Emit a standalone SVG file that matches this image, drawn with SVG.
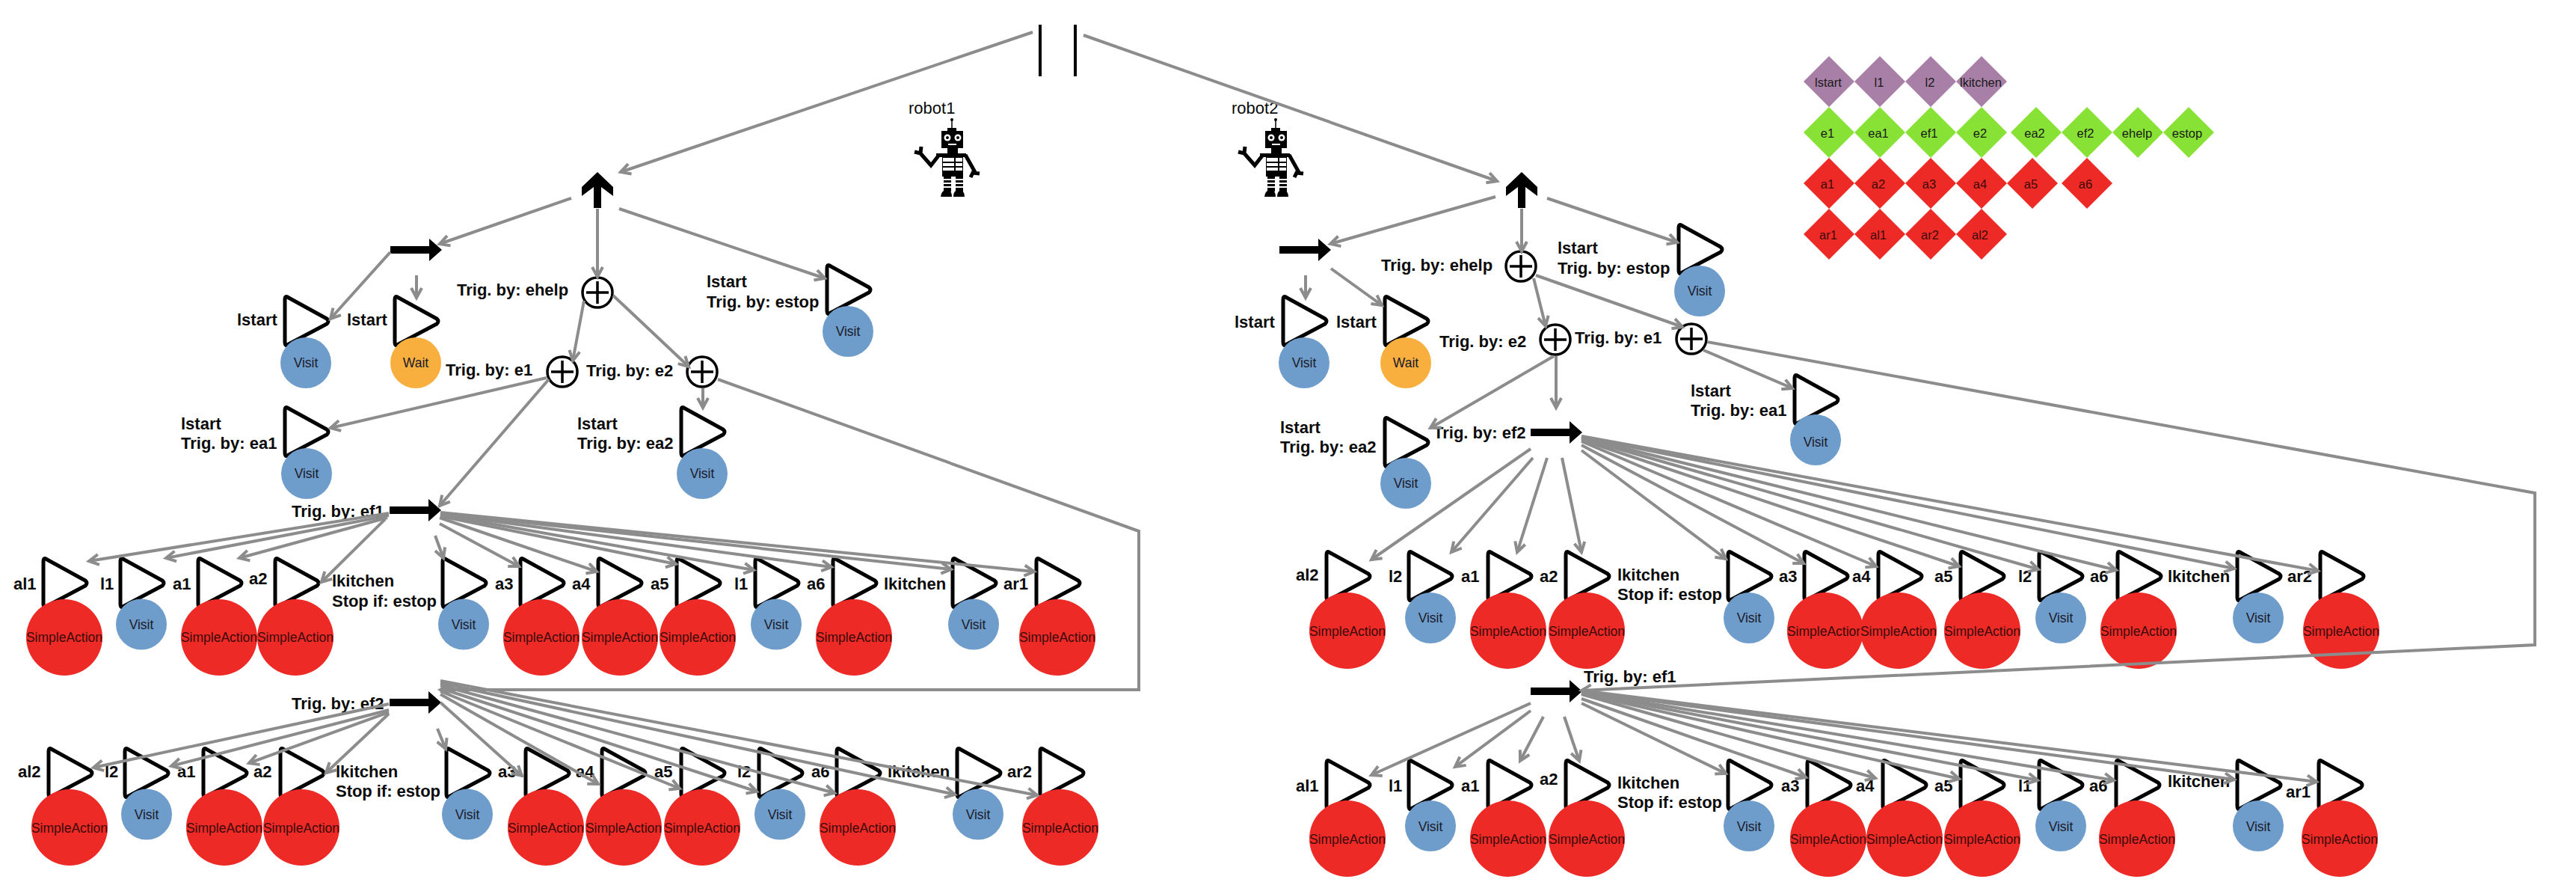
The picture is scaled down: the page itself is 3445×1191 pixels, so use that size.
<svg xmlns="http://www.w3.org/2000/svg" xmlns:xlink="http://www.w3.org/1999/xlink" width="3445" height="1191" viewBox="0 0 3445 1191">
<style>
text{font-family:"Liberation Sans",Arial,sans-serif;fill:#0b0b0b}
.lb{font-size:22px;font-weight:700}
.sm{font-size:17.5px;text-anchor:middle;fill:#1a1a2a}
.lg{font-size:16.5px;text-anchor:middle;fill:#1a1a1a}
.rb{font-size:22px}
.t{fill:none;stroke:#000;stroke-width:5;stroke-linejoin:round}
.sa{fill:#ee2a27}.v{fill:#6f9dcb}.w{fill:#f8af3e}
.sa-t{fill:#3a0a0a}
.p{fill:#a87fa7}.g{fill:#88e235}.r{fill:#ee2a27}
.c{fill:none;stroke:#8c8c8c;stroke-width:4;marker-end:url(#ah)}
.ring{fill:#fff;stroke:#000;stroke-width:3.5}
.bar{fill:none;stroke:#000;stroke-width:3.5}
</style>
<defs>
<marker id="ah" markerUnits="userSpaceOnUse" markerWidth="24" markerHeight="24" viewBox="0 0 24 24" refX="16" refY="12" orient="auto"><path d="M3,5 L16,12 L3,19" fill="none" stroke="#8c8c8c" stroke-width="4"/></marker>
<path id="tri" class="t" d="M0,5 Q0,-2 5,2 L56,30 Q60,33.5 56,37 L5,64 Q0,68 0,61 Z"/>
<polygon id="seq" points="0,10 52,10 52,0 69,15 52,30 52,20 0,20" fill="#000"/>
<polygon id="fb" points="0,0 21,20 21,32 5,20 5,48 -5,48 -5,20 -21,32 -21,20" fill="#000"/>
<g id="plus"><circle class="ring" r="20"/><path class="bar" d="M-15,0H15M0,-15V15"/></g>
<g id="robotfig" fill="#000">
<path d="M1273,161V172" stroke="#000" stroke-width="1.5"/><circle cx="1273" cy="160" r="2"/>
<rect x="1267" y="171" width="12" height="5"/><rect x="1259" y="175" width="29" height="23"/>
<circle cx="1267" cy="184" r="4.5" fill="#fff"/><circle cx="1281" cy="184" r="4.5" fill="#fff"/><circle cx="1267" cy="184" r="2"/><circle cx="1281" cy="184" r="2"/>
<rect x="1268" y="192" width="11" height="2" fill="#fff"/>
<rect x="1267" y="198" width="14" height="8"/><rect x="1260" y="205" width="28" height="31"/><rect x="1252" y="205" width="40" height="5"/>
<rect x="1261" y="211" width="26" height="5" fill="#fff"/><rect x="1261" y="218" width="26" height="4" fill="#fff"/><rect x="1261" y="224" width="26" height="4" fill="#fff"/>
<path d="M1277,210V229" stroke="#000" stroke-width="2"/>
<path d="M1256,207 L1245,221 L1231,205 M1223,203 L1231,205 L1232,196" fill="none" stroke="#000" stroke-width="5"/>
<path d="M1291,207 L1305,232 M1298,237 L1301,231 L1310,232" fill="none" stroke="#000" stroke-width="5"/>
<rect x="1262" y="236" width="10" height="20"/><rect x="1278" y="236" width="10" height="20"/>
<path d="M1261,240H1289M1261,245H1289M1261,250H1289" stroke="#fff" stroke-width="2"/>
<path d="M1258,263 Q1259,254 1266,254 Q1273,254 1273,263Z M1275,263 Q1275,254 1282,254 Q1290,254 1290,263Z"/>
</g>
</defs>
<rect width="3445" height="1191" fill="#fff"/>

<g id="par"><path d="M1391,33V102M1438,33V102" stroke="#000" stroke-width="4"/></g>
<g id="robot1"><text class="rb" x="1215" y="152">robot1</text><use xlink:href="#robotfig"/></g>
<g id="robot2"><text class="rb" x="1647" y="152">robot2</text><use xlink:href="#robotfig" transform="translate(433,0)"/></g>

<g id="legend">
<g class="p"><polygon points="2446,75 2480,109 2446,143 2412,109"/><polygon points="2514,75 2548,109 2514,143 2480,109"/><polygon points="2582,75 2616,109 2582,143 2548,109"/><polygon points="2650,75 2684,109 2650,143 2616,109"/></g>
<g class="g"><polygon points="2446,143 2480,177 2446,211 2412,177"/><polygon points="2514,143 2548,177 2514,211 2480,177"/><polygon points="2582,143 2616,177 2582,211 2548,177"/><polygon points="2650,143 2684,177 2650,211 2616,177"/><polygon points="2723,143 2757,177 2723,211 2689,177"/><polygon points="2791,143 2825,177 2791,211 2757,177"/><polygon points="2859,143 2893,177 2859,211 2825,177"/><polygon points="2927,143 2961,177 2927,211 2893,177"/></g>
<g class="r"><polygon points="2446,211 2480,245 2446,279 2412,245"/><polygon points="2514,211 2548,245 2514,279 2480,245"/><polygon points="2582,211 2616,245 2582,279 2548,245"/><polygon points="2650,211 2684,245 2650,279 2616,245"/><polygon points="2718,211 2752,245 2718,279 2684,245"/><polygon points="2791,211 2825,245 2791,279 2757,245"/>
<polygon points="2446,279 2480,313 2446,347 2412,313"/><polygon points="2514,279 2548,313 2514,347 2480,313"/><polygon points="2582,279 2616,313 2582,347 2548,313"/><polygon points="2650,279 2684,313 2650,347 2616,313"/></g>
<text class="lg" x="2445" y="116">lstart</text><text class="lg" x="2513" y="116">l1</text><text class="lg" x="2581" y="116">l2</text><text class="lg" x="2649" y="116">lkitchen</text>
<text class="lg" x="2444" y="184">e1</text><text class="lg" x="2512" y="184">ea1</text><text class="lg" x="2580" y="184">ef1</text><text class="lg" x="2648" y="184">e2</text><text class="lg" x="2721" y="184">ea2</text><text class="lg" x="2789" y="184">ef2</text><text class="lg" x="2858" y="184">ehelp</text><text class="lg" x="2925" y="184">estop</text>
<text class="lg sa-t" x="2444" y="252">a1</text><text class="lg sa-t" x="2512" y="252">a2</text><text class="lg sa-t" x="2580" y="252">a3</text><text class="lg sa-t" x="2648" y="252">a4</text><text class="lg sa-t" x="2716" y="252">a5</text><text class="lg sa-t" x="2789" y="252">a6</text>
<text class="lg sa-t" x="2445" y="320">ar1</text><text class="lg sa-t" x="2512" y="320">al1</text><text class="lg sa-t" x="2581" y="320">ar2</text><text class="lg sa-t" x="2648" y="320">al2</text>
</g>

<!-- left tree control nodes -->
<g id="l-fb"><use xlink:href="#fb" x="799" y="230"/></g>
<g id="l-seq"><use xlink:href="#seq" x="522" y="319"/></g>
<g id="l-ehelp"><use xlink:href="#plus" x="799" y="391"/><text class="lb" x="611" y="395">Trig. by: ehelp</text></g>
<g id="l-e1"><use xlink:href="#plus" x="752" y="497"/><text class="lb" x="596" y="502">Trig. by: e1</text></g>
<g id="l-e2"><use xlink:href="#plus" x="939" y="497"/><text class="lb" x="784" y="503">Trig. by: e2</text></g>
<g id="l-ef1"><use xlink:href="#seq" x="521" y="667"/><text class="lb" x="390" y="691">Trig. by: ef1</text></g>
<g id="l-ef2"><use xlink:href="#seq" x="521" y="924"/><text class="lb" x="390" y="948">Trig. by: ef2</text></g>

<g id="l-visit0"><use xlink:href="#tri" x="381" y="396"/><circle class="v" cx="409" cy="485" r="34"/><text class="sm" x="409" y="491">Visit</text><text class="lb" x="317" y="435">lstart</text></g>
<g id="l-wait0"><use xlink:href="#tri" x="528" y="396"/><circle class="w" cx="556" cy="485" r="34"/><text class="sm" x="556" y="491">Wait</text><text class="lb" x="464" y="435">lstart</text></g>
<g id="l-estop"><use xlink:href="#tri" x="1106" y="354"/><circle class="v" cx="1134" cy="443" r="34"/><text class="sm" x="1134" y="449">Visit</text><text class="lb" x="945" y="384">lstart</text><text class="lb" x="945" y="411">Trig. by: estop</text></g>
<g id="l-ea1"><use xlink:href="#tri" x="381" y="544"/><circle class="v" cx="410" cy="633" r="34"/><text class="sm" x="410" y="639">Visit</text><text class="lb" x="242" y="574">lstart</text><text class="lb" x="242" y="600">Trig. by: ea1</text></g>
<g id="l-ea2"><use xlink:href="#tri" x="911" y="544"/><circle class="v" cx="939" cy="633" r="34"/><text class="sm" x="939" y="639">Visit</text><text class="lb" x="772" y="574">lstart</text><text class="lb" x="772" y="600">Trig. by: ea2</text></g>

<!-- left row 1 -->
<g id="l1-al1"><use xlink:href="#tri" x="58" y="746"/><circle class="sa" cx="86" cy="852" r="51"/><text class="sm sa-t" x="86" y="858">SimpleAction</text><text class="lb" x="18" y="788">al1</text></g>
<g id="l1-l1"><use xlink:href="#tri" x="161" y="746"/><circle class="v" cx="189" cy="834.5" r="34"/><text class="sm" x="189" y="841">Visit</text><text class="lb" x="134" y="788">l1</text></g>
<g id="l1-a1"><use xlink:href="#tri" x="265" y="746"/><circle class="sa" cx="293" cy="852" r="51"/><text class="sm sa-t" x="293" y="858">SimpleAction</text><text class="lb" x="231" y="788">a1</text></g>
<g id="l1-a2"><use xlink:href="#tri" x="368" y="746"/><circle class="sa" cx="395" cy="852" r="51"/><text class="sm sa-t" x="395" y="858">SimpleAction</text><text class="lb" x="333" y="781">a2</text></g>
<g id="l1-k"><use xlink:href="#tri" x="592" y="746"/><circle class="v" cx="620" cy="834.5" r="34"/><text class="sm" x="620" y="841">Visit</text><text class="lb" x="444" y="784">lkitchen</text><text class="lb" x="444" y="811" textLength="140">Stop if: estop</text></g>
<g id="l1-a3"><use xlink:href="#tri" x="696" y="746"/><circle class="sa" cx="724" cy="852" r="51"/><text class="sm sa-t" x="724" y="858">SimpleAction</text><text class="lb" x="662" y="788">a3</text></g>
<g id="l1-a4"><use xlink:href="#tri" x="800" y="746"/><circle class="sa" cx="829" cy="852" r="51"/><text class="sm sa-t" x="829" y="858">SimpleAction</text><text class="lb" x="765" y="788">a4</text></g>
<g id="l1-a5"><use xlink:href="#tri" x="905" y="746"/><circle class="sa" cx="933" cy="852" r="51"/><text class="sm sa-t" x="933" y="858">SimpleAction</text><text class="lb" x="870" y="788">a5</text></g>
<g id="l1-l1b"><use xlink:href="#tri" x="1010" y="746"/><circle class="v" cx="1038" cy="834.5" r="34"/><text class="sm" x="1038" y="841">Visit</text><text class="lb" x="982" y="788">l1</text></g>
<g id="l1-a6"><use xlink:href="#tri" x="1114" y="746"/><circle class="sa" cx="1142" cy="852" r="51"/><text class="sm sa-t" x="1142" y="858">SimpleAction</text><text class="lb" x="1079" y="788">a6</text></g>
<g id="l1-kb"><use xlink:href="#tri" x="1274" y="746"/><circle class="v" cx="1302" cy="834.5" r="34"/><text class="sm" x="1302" y="841">Visit</text><text class="lb" x="1182" y="788">lkitchen</text></g>
<g id="l1-ar1"><use xlink:href="#tri" x="1386" y="746"/><circle class="sa" cx="1414" cy="852" r="51"/><text class="sm sa-t" x="1414" y="858">SimpleAction</text><text class="lb" x="1342" y="788">ar1</text></g>

<!-- left row 2 -->
<g id="l2-al2"><use xlink:href="#tri" x="65" y="1000"/><circle class="sa" cx="93" cy="1106" r="51"/><text class="sm sa-t" x="93" y="1113">SimpleAction</text><text class="lb" x="24" y="1039">al2</text></g>
<g id="l2-l2"><use xlink:href="#tri" x="167" y="1000"/><circle class="v" cx="196" cy="1088.5" r="34"/><text class="sm" x="196" y="1095">Visit</text><text class="lb" x="140" y="1039">l2</text></g>
<g id="l2-a1"><use xlink:href="#tri" x="272" y="1000"/><circle class="sa" cx="300" cy="1106" r="51"/><text class="sm sa-t" x="300" y="1113">SimpleAction</text><text class="lb" x="237" y="1039">a1</text></g>
<g id="l2-a2"><use xlink:href="#tri" x="375" y="1000"/><circle class="sa" cx="403" cy="1106" r="51"/><text class="sm sa-t" x="403" y="1113">SimpleAction</text><text class="lb" x="339" y="1039">a2</text></g>
<g id="l2-k"><use xlink:href="#tri" x="597" y="1000"/><circle class="v" cx="625" cy="1088.5" r="34"/><text class="sm" x="625" y="1095">Visit</text><text class="lb" x="449" y="1039">lkitchen</text><text class="lb" x="449" y="1065" textLength="140">Stop if: estop</text></g>
<g id="l2-a3"><use xlink:href="#tri" x="703" y="1000"/><circle class="sa" cx="730" cy="1106" r="51"/><text class="sm sa-t" x="730" y="1113">SimpleAction</text><text class="lb" x="666" y="1039">a3</text></g>
<g id="l2-a4"><use xlink:href="#tri" x="805" y="1000"/><circle class="sa" cx="834" cy="1106" r="51"/><text class="sm sa-t" x="834" y="1113">SimpleAction</text><text class="lb" x="770" y="1039">a4</text></g>
<g id="l2-a5"><use xlink:href="#tri" x="911" y="1000"/><circle class="sa" cx="939" cy="1106" r="51"/><text class="sm sa-t" x="939" y="1113">SimpleAction</text><text class="lb" x="875" y="1039">a5</text></g>
<g id="l2-l2b"><use xlink:href="#tri" x="1015" y="1000"/><circle class="v" cx="1043" cy="1088.5" r="34"/><text class="sm" x="1043" y="1095">Visit</text><text class="lb" x="986" y="1039">l2</text></g>
<g id="l2-a6"><use xlink:href="#tri" x="1119" y="1000"/><circle class="sa" cx="1147" cy="1106" r="51"/><text class="sm sa-t" x="1147" y="1113">SimpleAction</text><text class="lb" x="1085" y="1039">a6</text></g>
<g id="l2-kb"><use xlink:href="#tri" x="1280" y="1000"/><circle class="v" cx="1308" cy="1088.5" r="34"/><text class="sm" x="1308" y="1095">Visit</text><text class="lb" x="1187" y="1039">lkitchen</text></g>
<g id="l2-ar2"><use xlink:href="#tri" x="1391" y="1000"/><circle class="sa" cx="1418" cy="1106" r="51"/><text class="sm sa-t" x="1418" y="1113">SimpleAction</text><text class="lb" x="1347" y="1039">ar2</text></g>

<!-- right tree control nodes -->
<g id="r-fb"><use xlink:href="#fb" x="2035" y="230"/></g>
<g id="r-seq"><use xlink:href="#seq" x="1711" y="319"/></g>
<g id="r-ehelp"><use xlink:href="#plus" x="2034" y="356"/><text class="lb" x="1847" y="362">Trig. by: ehelp</text></g>
<g id="r-e2"><use xlink:href="#plus" x="2080" y="454"/><text class="lb" x="1925" y="464">Trig. by: e2</text></g>
<g id="r-e1"><use xlink:href="#plus" x="2262" y="453"/><text class="lb" x="2106" y="459">Trig. by: e1</text></g>
<g id="r-ef2"><use xlink:href="#seq" x="2047" y="563"/><text class="lb" x="1917" y="586">Trig. by: ef2</text></g>
<g id="r-ef1"><use xlink:href="#seq" x="2047" y="909"/><text class="lb" x="2118" y="912">Trig. by: ef1</text></g>

<g id="r-visit0"><use xlink:href="#tri" x="1716" y="396"/><circle class="v" cx="1744" cy="485" r="34"/><text class="sm" x="1744" y="491">Visit</text><text class="lb" x="1651" y="438">lstart</text></g>
<g id="r-wait0"><use xlink:href="#tri" x="1852" y="396"/><circle class="w" cx="1880" cy="485" r="34"/><text class="sm" x="1880" y="491">Wait</text><text class="lb" x="1787" y="438">lstart</text></g>
<g id="r-estop"><use xlink:href="#tri" x="2245" y="300"/><circle class="v" cx="2273" cy="389" r="34"/><text class="sm" x="2273" y="395">Visit</text><text class="lb" x="2083" y="339">lstart</text><text class="lb" x="2083" y="366">Trig. by: estop</text></g>
<g id="r-ea2"><use xlink:href="#tri" x="1852" y="558"/><circle class="v" cx="1880" cy="646" r="34"/><text class="sm" x="1880" y="652">Visit</text><text class="lb" x="1712" y="579">lstart</text><text class="lb" x="1712" y="605">Trig. by: ea2</text></g>
<g id="r-ea1"><use xlink:href="#tri" x="2400" y="501"/><circle class="v" cx="2428" cy="588" r="34"/><text class="sm" x="2428" y="597">Visit</text><text class="lb" x="2261" y="530">lstart</text><text class="lb" x="2261" y="556">Trig. by: ea1</text></g>

<!-- right row 1 -->
<g id="r1-al2"><use xlink:href="#tri" x="1774" y="737"/><circle class="sa" cx="1802" cy="843" r="51"/><text class="sm sa-t" x="1802" y="850">SimpleAction</text><text class="lb" x="1733" y="776">al2</text></g>
<g id="r1-l2"><use xlink:href="#tri" x="1884" y="737"/><circle class="v" cx="1913" cy="826" r="34"/><text class="sm" x="1913" y="832">Visit</text><text class="lb" x="1857" y="778">l2</text></g>
<g id="r1-a1"><use xlink:href="#tri" x="1990" y="737"/><circle class="sa" cx="2017" cy="843" r="51"/><text class="sm sa-t" x="2017" y="850">SimpleAction</text><text class="lb" x="1954" y="778">a1</text></g>
<g id="r1-a2"><use xlink:href="#tri" x="2094" y="737"/><circle class="sa" cx="2122" cy="843" r="51"/><text class="sm sa-t" x="2122" y="850">SimpleAction</text><text class="lb" x="2059" y="778">a2</text></g>
<g id="r1-k"><use xlink:href="#tri" x="2311" y="737"/><circle class="v" cx="2339" cy="826" r="34"/><text class="sm" x="2339" y="832">Visit</text><text class="lb" x="2163" y="776">lkitchen</text><text class="lb" x="2163" y="802" textLength="140">Stop if: estop</text></g>
<g id="r1-a3"><use xlink:href="#tri" x="2413" y="737"/><circle class="sa" cx="2441" cy="843" r="51"/><text class="sm sa-t" x="2441" y="850">SimpleAction</text><text class="lb" x="2379" y="778">a3</text></g>
<g id="r1-a4"><use xlink:href="#tri" x="2512" y="737"/><circle class="sa" cx="2539" cy="843" r="51"/><text class="sm sa-t" x="2539" y="850">SimpleAction</text><text class="lb" x="2477" y="778">a4</text></g>
<g id="r1-a5"><use xlink:href="#tri" x="2622" y="737"/><circle class="sa" cx="2651" cy="843" r="51"/><text class="sm sa-t" x="2651" y="850">SimpleAction</text><text class="lb" x="2587" y="778">a5</text></g>
<g id="r1-l2b"><use xlink:href="#tri" x="2727" y="737"/><circle class="v" cx="2756" cy="826" r="34"/><text class="sm" x="2756" y="832">Visit</text><text class="lb" x="2699" y="778">l2</text></g>
<g id="r1-a6"><use xlink:href="#tri" x="2832" y="737"/><circle class="sa" cx="2860" cy="843" r="51"/><text class="sm sa-t" x="2860" y="850">SimpleAction</text><text class="lb" x="2795" y="778">a6</text></g>
<g id="r1-kb"><use xlink:href="#tri" x="2992" y="737"/><circle class="v" cx="3020" cy="826" r="34"/><text class="sm" x="3020" y="832">Visit</text><text class="lb" x="2899" y="778">lkitchen</text></g>
<g id="r1-ar2"><use xlink:href="#tri" x="3103" y="737"/><circle class="sa" cx="3131" cy="843" r="51"/><text class="sm sa-t" x="3131" y="850">SimpleAction</text><text class="lb" x="3059" y="778">ar2</text></g>

<!-- right row 2 -->
<g id="r2-al1"><use xlink:href="#tri" x="1774" y="1016"/><circle class="sa" cx="1802" cy="1121" r="51"/><text class="sm sa-t" x="1802" y="1128">SimpleAction</text><text class="lb" x="1733" y="1058">al1</text></g>
<g id="r2-l1"><use xlink:href="#tri" x="1884" y="1016"/><circle class="v" cx="1913" cy="1104" r="34"/><text class="sm" x="1913" y="1111">Visit</text><text class="lb" x="1857" y="1058">l1</text></g>
<g id="r2-a1"><use xlink:href="#tri" x="1990" y="1016"/><circle class="sa" cx="2017" cy="1121" r="51"/><text class="sm sa-t" x="2017" y="1128">SimpleAction</text><text class="lb" x="1954" y="1058">a1</text></g>
<g id="r2-a2"><use xlink:href="#tri" x="2094" y="1016"/><circle class="sa" cx="2122" cy="1121" r="51"/><text class="sm sa-t" x="2122" y="1128">SimpleAction</text><text class="lb" x="2059" y="1049">a2</text></g>
<g id="r2-k"><use xlink:href="#tri" x="2311" y="1016"/><circle class="v" cx="2339" cy="1104" r="34"/><text class="sm" x="2339" y="1111">Visit</text><text class="lb" x="2163" y="1054">lkitchen</text><text class="lb" x="2163" y="1080" textLength="140">Stop if: estop</text></g>
<g id="r2-a3"><use xlink:href="#tri" x="2417" y="1016"/><circle class="sa" cx="2445" cy="1121" r="51"/><text class="sm sa-t" x="2445" y="1128">SimpleAction</text><text class="lb" x="2382" y="1058">a3</text></g>
<g id="r2-a4"><use xlink:href="#tri" x="2518" y="1016"/><circle class="sa" cx="2547" cy="1121" r="51"/><text class="sm sa-t" x="2547" y="1128">SimpleAction</text><text class="lb" x="2482" y="1058">a4</text></g>
<g id="r2-a5"><use xlink:href="#tri" x="2622" y="1016"/><circle class="sa" cx="2651" cy="1121" r="51"/><text class="sm sa-t" x="2651" y="1128">SimpleAction</text><text class="lb" x="2587" y="1058">a5</text></g>
<g id="r2-l1b"><use xlink:href="#tri" x="2727" y="1016"/><circle class="v" cx="2756" cy="1104" r="34"/><text class="sm" x="2756" y="1111">Visit</text><text class="lb" x="2699" y="1058">l1</text></g>
<g id="r2-a6"><use xlink:href="#tri" x="2830" y="1016"/><circle class="sa" cx="2858" cy="1121" r="51"/><text class="sm sa-t" x="2858" y="1128">SimpleAction</text><text class="lb" x="2794" y="1058">a6</text></g>
<g id="r2-kb"><use xlink:href="#tri" x="2992" y="1016"/><circle class="v" cx="3020" cy="1104" r="34"/><text class="sm" x="3020" y="1111">Visit</text><text class="lb" x="2899" y="1052">lkitchen</text></g>
<g id="r2-ar1"><use xlink:href="#tri" x="3101" y="1016"/><circle class="sa" cx="3129" cy="1121" r="51"/><text class="sm sa-t" x="3129" y="1128">SimpleAction</text><text class="lb" x="3057" y="1066">ar1</text></g>

<g id="connectors">
<path class="c" d="M1381,43L830,230"/>
<path class="c" d="M1449,47L2002,242"/>
<path class="c" d="M764,265L588,326"/>
<path class="c" d="M799,279V370"/>
<path class="c" d="M828,279L1103,372"/>
<path class="c" d="M522,337L442,426"/>
<path class="c" d="M557,368V398"/>
<path class="c" d="M781,402L766,482"/>
<path class="c" d="M820,395L921,490"/>
<path class="c" d="M731,505L442,572"/>
<path class="c" d="M734,507L588,676"/>
<path class="c" d="M940,519V545"/>
<path class="c" d="M960,507L1523,710V922L589,922"/>
<!-- left ef1 fan -->
<path class="c" d="M520,686L119,750"/><path class="c" d="M520,689L222,746"/><path class="c" d="M518,692L320,746"/><path class="c" d="M515,694L430,778"/>
<path class="c" d="M582,716L593,746"/><path class="c" d="M588,700L694,757"/><path class="c" d="M588,692L798,764"/><path class="c" d="M589,690L904,754"/><path class="c" d="M589,688L1008,762"/><path class="c" d="M589,687L1112,758"/><path class="c" d="M589,686L1272,761"/><path class="c" d="M589,685L1383,764"/>
<!-- left ef2 fan -->
<path class="c" d="M520,941L125,1026"/><path class="c" d="M520,949L229,1024"/><path class="c" d="M520,952L333,1020"/><path class="c" d="M520,954L436,1033"/>
<path class="c" d="M585,974L596,1001"/><path class="c" d="M589,939L698,1037"/><path class="c" d="M589,928L800,1048"/><path class="c" d="M589,924L909,1054"/><path class="c" d="M589,920L1012,1058"/><path class="c" d="M589,916L1116,1060"/><path class="c" d="M589,913L1277,1062"/><path class="c" d="M589,910L1387,1063"/>
<!-- right tree -->
<path class="c" d="M2000,263L1779,326"/>
<path class="c" d="M2035,279V336"/>
<path class="c" d="M2069,265L2243,324"/>
<path class="c" d="M1746,368V398"/>
<path class="c" d="M1780,359L1848,408"/>
<path class="c" d="M2051,372L2067,436"/>
<path class="c" d="M2054,368L2250,437"/>
<path class="c" d="M2078,476L1913,572"/>
<path class="c" d="M2081,476V545"/>
<path class="c" d="M2278,468L2397,519"/>
<path class="c" d="M2283,457L3390,659V862L2115,923"/>
<path class="c" d="M2047,600L1834,748"/><path class="c" d="M2050,612L1941,738"/><path class="c" d="M2069,612L2029,738"/><path class="c" d="M2089,612L2115,738"/>
<path class="c" d="M2115,602L2308,747"/><path class="c" d="M2115,595L2412,753"/><path class="c" d="M2115,590L2509,757"/><path class="c" d="M2115,588L2620,757"/><path class="c" d="M2115,586L2726,761"/><path class="c" d="M2115,585L2830,762"/><path class="c" d="M2115,584L2988,760"/><path class="c" d="M2115,583L3100,763"/>
<path class="c" d="M2047,940L1834,1036"/><path class="c" d="M2047,950L1946,1025"/><path class="c" d="M2064,958L2033,1017"/><path class="c" d="M2092,958L2112,1017"/>
<path class="c" d="M2115,940L2308,1034"/><path class="c" d="M2115,934L2415,1039"/><path class="c" d="M2115,928L2508,1040"/><path class="c" d="M2115,927L2620,1041"/><path class="c" d="M2115,926L2725,1043"/><path class="c" d="M2115,925L2827,1043"/><path class="c" d="M2115,924L2988,1042"/><path class="c" d="M2115,923L3098,1045"/>
</g>
</svg>
